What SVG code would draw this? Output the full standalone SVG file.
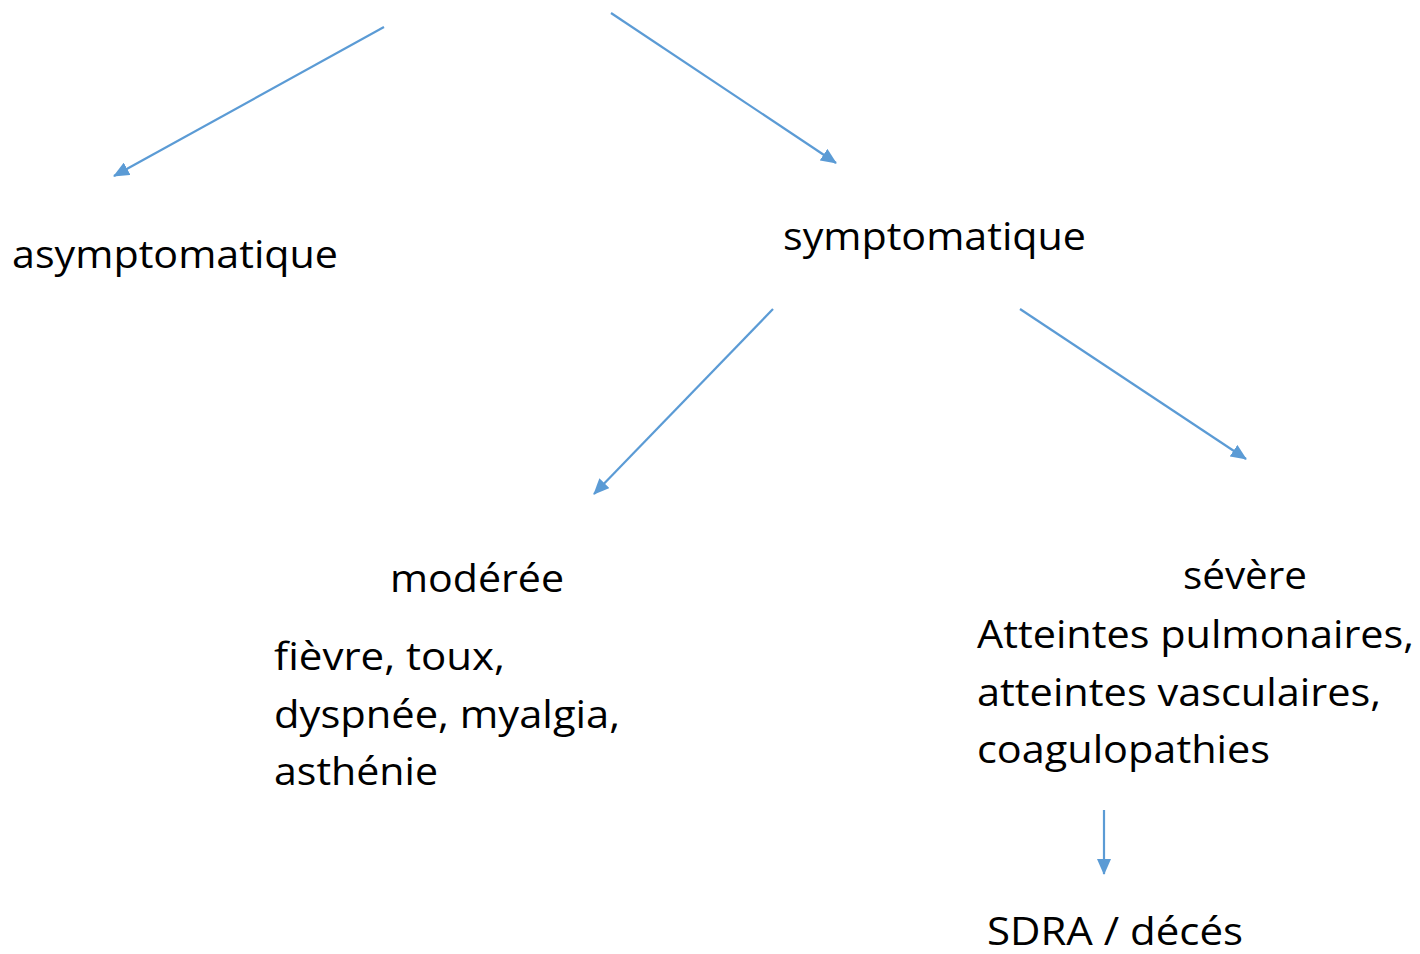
<svg xmlns="http://www.w3.org/2000/svg" width="1420" height="954" viewBox="0 0 1420 954">
<defs>
<marker id="ah" viewBox="0 0 16 14" refX="15" refY="7" markerWidth="16" markerHeight="14" markerUnits="userSpaceOnUse" orient="auto">
<path d="M0,0 L16,7 L0,14 Z" fill="#5B9BD5"/>
</marker>
<style>
.t{font-family:"Open Sans",Lato,"Liberation Sans",sans-serif;font-size:38px;fill:#000;font-variant-ligatures:none}
.c{stroke:#5B9BD5;stroke-width:2.2;fill:none;marker-end:url(#ah)}
</style>
</defs>
<rect width="1420" height="954" fill="#fff"/>
<g id="connectors">
<line class="c" x1="384" y1="27" x2="114" y2="176"/>
<line class="c" x1="611" y1="13" x2="836" y2="163"/>
<line class="c" x1="773" y1="309" x2="594" y2="494"/>
<line class="c" x1="1020" y1="309" x2="1246" y2="459"/>
<line class="c" x1="1104" y1="810" x2="1104" y2="874"/>
</g>
<g id="asymptomatique"><text class="t" x="12" y="268" textLength="326" lengthAdjust="spacingAndGlyphs">asymptomatique</text></g>
<g id="symptomatique"><text class="t" x="783" y="250" textLength="303" lengthAdjust="spacingAndGlyphs">symptomatique</text></g>
<g id="moderee"><text class="t" x="390" y="592" textLength="174" lengthAdjust="spacingAndGlyphs">modérée</text>
<text class="t" x="274" y="670" textLength="231" lengthAdjust="spacingAndGlyphs">fièvre, toux,</text>
<text class="t" x="274" y="728" textLength="346" lengthAdjust="spacingAndGlyphs">dyspnée, myalgia,</text>
<text class="t" x="274" y="785" textLength="164" lengthAdjust="spacingAndGlyphs">asthénie</text></g>
<g id="severe"><text class="t" x="1183" y="589" textLength="124" lengthAdjust="spacingAndGlyphs">sévère</text>
<text class="t" x="977" y="648" textLength="437" lengthAdjust="spacingAndGlyphs">Atteintes pulmonaires,</text>
<text class="t" x="977" y="706" textLength="404" lengthAdjust="spacingAndGlyphs">atteintes vasculaires,</text>
<text class="t" x="977" y="763" textLength="293" lengthAdjust="spacingAndGlyphs">coagulopathies</text></g>
<g id="sdra"><text class="t" x="987" y="945" textLength="256" lengthAdjust="spacingAndGlyphs">SDRA / décés</text></g>
</svg>
